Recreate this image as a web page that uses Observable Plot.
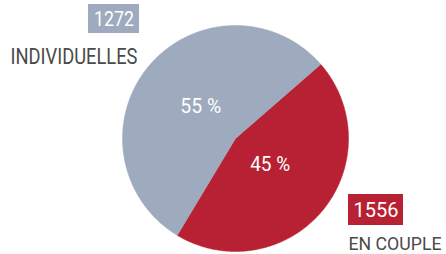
<!DOCTYPE html>
<html><head><meta charset="utf-8">
<script src="https://cdn.jsdelivr.net/npm/d3@7"></script>
<script src="https://cdn.jsdelivr.net/npm/@observablehq/plot@0.6"></script>
<style>html,body{margin:0;padding:0;background:#fff;} #chart svg{display:block}</style>
</head><body><div id="chart"></div>
<script>
const categories = ["EN COUPLE", "INDIVIDUELLES"];
const counts = [1556, 1272];
const shares = [45, 55];
const shareLabels = ["45 %", "55 %"];
const colors = ["#b82133", "#9eaabd"];

const W = 446, H = 254, cx = 235, cy = 138, r = 113;
const start = 49 * Math.PI / 180;
const rows = categories.map((c, i) => ({category: c, count: counts[i], share: shares[i], label: shareLabels[i]}));
const arcs = d3.pie().sort(null).value(d => d.share).startAngle(start).endAngle(start + 2 * Math.PI)(rows);

const slicePts = arcs.flatMap(a => {
  const n = Math.ceil((a.endAngle - a.startAngle) / 0.01);
  const out = [{category: a.data.category, px: cx, py: cy}];
  for (let k = 0; k <= n; k++) {
    const t = a.startAngle + (a.endAngle - a.startAngle) * k / n;
    out.push({category: a.data.category, px: cx + r * Math.sin(t), py: cy - r * Math.cos(t)});
  }
  out.push({category: a.data.category, px: cx, py: cy});
  return out;
});
const pctPts = arcs.map(a => {
  const m = (a.startAngle + a.endAngle) / 2, lr = r * 0.40;
  return {label: a.data.label, px: cx + lr * Math.sin(m), py: cy - lr * Math.cos(m)};
});

// callout annotations (number box + category name)
const callouts = [
  {category: "INDIVIDUELLES", count: counts[1], bx1: 88, bx2: 139, by1: 4, by2: 33, nameX: 10, nameY: 56, size: 22},
  {category: "EN COUPLE", count: counts[0], bx1: 348, bx2: 403, by1: 194, by2: 225, nameX: 348, nameY: 244, size: 18.5}
];
// condensed look: target text widths (px)
const textWidths = {"INDIVIDUELLES": 127, "EN COUPLE": 93, "1272": 40, "1556": 45, "55 %": 41, "45 %": 40};

const font = "Roboto, 'Liberation Sans', sans-serif";
const chart = Plot.plot({
  width: W, height: H, margin: 0,
  x: {domain: [0, W], range: [0, W], axis: null},
  y: {domain: [0, H], range: [0, H], axis: null},
  color: {domain: categories, range: colors},
  style: {fontFamily: font, background: "#fff"},
  marks: [
    Plot.line(slicePts, {x: "px", y: "py", z: "category", fill: "category", stroke: "category", strokeWidth: 0.5, curve: "linear"}),
    Plot.text(pctPts, {x: "px", y: "py", dy: -3.5, text: "label", fill: "#fff", fontSize: 21}),
    Plot.rect(callouts, {x1: "bx1", x2: "bx2", y1: "by1", y2: "by2", fill: "category"}),
    Plot.text(callouts, {x: d => (d.bx1 + d.bx2) / 2, y: d => (d.by1 + d.by2) / 2, text: d => String(d.count), fill: "#fff", fontSize: 21}),
    ...callouts.map(c => Plot.text([c], {x: "nameX", y: "nameY", text: "category", textAnchor: "start", fill: "#4a4a4a", fontSize: c.size}))
  ]
});
d3.select(chart).selectAll("text").each(function() {
  const w = textWidths[this.textContent];
  if (w) { this.setAttribute("textLength", w); this.setAttribute("lengthAdjust", "spacingAndGlyphs"); }
});
document.getElementById("chart").append(chart);
</script></body></html>
